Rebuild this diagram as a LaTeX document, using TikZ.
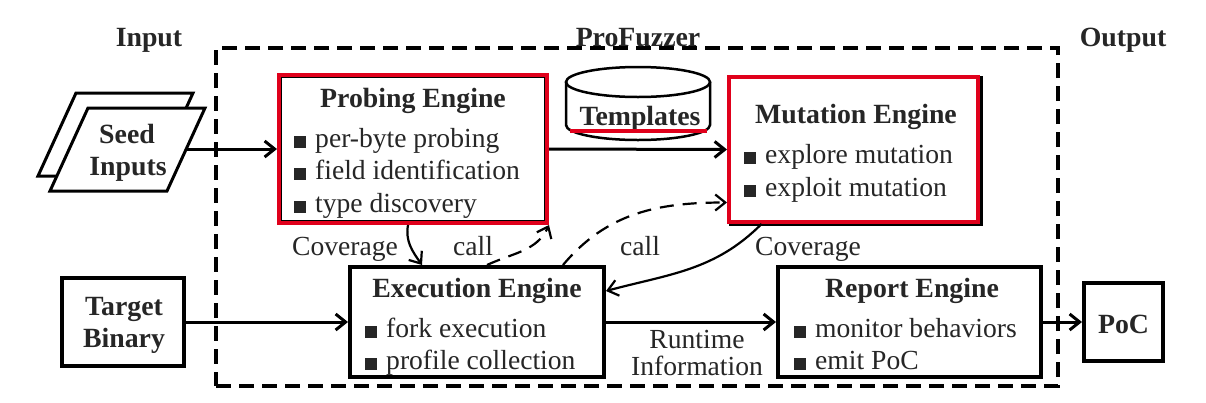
\documentclass[tikz,border=0pt]{standalone}
\usepackage{fontspec}
\setmainfont{Liberation Serif}
\usetikzlibrary{arrows.meta}
\definecolor{txtc}{HTML}{262626}
\definecolor{redc}{HTML}{E0001B}
\newcommand{\bul}{\rule[-1pt]{12pt}{12pt}\hspace{9pt}}
\begin{document}
\begin{tikzpicture}[x=1pt,y=-1pt,
  every node/.style={inner sep=0pt, text=txtc, font=\fontsize{27.6}{32}\selectfont},
  bold/.style={font=\fontsize{27.8}{32}\selectfont\bfseries},
  box/.style={draw=black, line width=4pt, fill=white, rectangle},
  rbox/.style={draw=redc, line width=4pt, fill=white, rectangle},
  inbox/.style={draw=black, line width=1.3pt, rectangle},
  conn/.style={line width=3pt, -{Straight Barb[length=10pt,width=16pt]}},
  thinc/.style={line width=2.2pt, -{Straight Barb[length=10pt,width=16pt]}},
  dsh/.style={thinc, dash pattern=on 14pt off 9pt},
  bl/.style={anchor=base west},
  bc/.style={anchor=base},
]
\fill[white] (0,0) rectangle (1206,402);
\useasboundingbox (0,0) rectangle (1206,402);

% frame
\node[draw=black, line width=3.5pt, dash pattern=on 15pt off 8pt, minimum width=842, minimum height=338, outer sep=0pt] (frame) at (637,217) {};

% titles
\node[bold, bc] (tin) at (149,46) {Input};
\node[bold, bc] (tpf) at (638,46) {ProFuzzer};
\node[bold, bc] (tout) at (1123,46) {Output};

% seed inputs
\draw[line width=3pt, fill=white] (76,93) -- (193,93) -- (155,176) -- (38,176) -- cycle;
\draw[line width=3pt, fill=white] (88,108) -- (205,108) -- (167,191) -- (50,191) -- cycle;
\node[bold, bc] (seed1) at (127,143) {Seed};
\node[bold, bc] (seed2) at (128,175) {Inputs};
\coordinate (seedout) at (187,149);

% target binary
\node[box, minimum width=122, minimum height=88] (target) at (123,322) {};
\node[bold, bc] (tg1) at (124,315) {Target};
\node[bold, bc] (tg2) at (124,347) {Binary};

% probing engine
\node[rbox, minimum width=268, minimum height=148] (probe) at (413,149) {};
\node[inbox, minimum width=263, minimum height=143] (probein) at (413,149) {};
\node[bold, bc] (probeT) at (413,107) {Probing Engine};
\node[bl] (p1) at (294,147) {\bul per-byte probing};
\node[bl] (p2) at (294,179) {\bul field identification};
\node[bl] (p3) at (294,212) {\bul type discovery};

% templates
\draw[line width=2.5pt, fill=white] (566,82) -- (566,125) arc[start angle=180, end angle=360, x radius=72pt, y radius=15pt] -- (710,82);
\draw[line width=2.5pt, fill=white] (638,82) ellipse [x radius=72pt, y radius=15pt];
\node[bold, bc] (tmpl) at (640,125) {Templates};
\draw[redc, line width=4.5pt] ([xshift=-9pt,yshift=-6pt]tmpl.base west) -- ([xshift=6pt,yshift=-6pt]tmpl.base east);

% mutation engine
\node[box, line width=3pt, minimum width=251, minimum height=147] (mutsh) at (856,151) {};
\node[rbox, minimum width=249, minimum height=145] (mut) at (853.5,149.5) {};
\node[bold, bc] (mutT) at (856,123) {Mutation Engine};
\node[bl] (m1) at (744,163) {\bul explore mutation};
\node[bl] (m2) at (744,196) {\bul exploit mutation};

% execution engine
\node[box, minimum width=254, minimum height=110] (exec) at (477,322) {};
\node[bold, bc] (execT) at (477,297) {Execution Engine};
\node[bl] (e1) at (365,337) {\bul fork execution};
\node[bl] (e2) at (365,369) {\bul profile collection};

% report engine
\node[box, minimum width=263, minimum height=110] (report) at (909.5,322) {};
\node[bold, bc] (repT) at (912,297) {Report Engine};
\node[bl] (r1) at (794,337) {\bul monitor behaviors};
\node[bl] (r2) at (794,369) {\bul emit PoC};

% PoC
\node[box, minimum width=79, minimum height=78] (poc) at (1123.5,322) {};
\node[bold, bc] (pocT) at (1123.5,333) {PoC};

% labels
\node[bc] (lcov1) at (345,255) {Coverage};
\node[bc] (lcall1) at (473,255) {call};
\node[bc] (lcall2) at (640,255) {call};
\node[bc] (lcov2) at (808,255) {Coverage};
\node[bc] (lrt1) at (697,348) {Runtime};
\node[bc] (lrt2) at (697,375) {Information};

% connectors
\draw[conn] (seedout) -- (probe.west);
\draw[conn] (probe.east) -- (mut.west);
\draw[conn] (target.east) -- (exec.west);
\draw[conn] (exec.east) -- (report.west);
\draw[conn] (report.east) -- (poc.west);
\draw[thinc] ([xshift=-5pt]probe.south) to[out=-100,in=125] ([xshift=-55pt]exec.north);
\draw[dsh] ([xshift=10pt]exec.north) to[out=25,in=-115] (probe.south east);
\draw[dsh] ([xshift=86pt]exec.north) to[out=50,in=180] ([yshift=-53pt]mut.west);
\draw[thinc] ([xshift=-92pt]mut.south) to[out=-135,in=15] ([yshift=31pt]exec.east);
\end{tikzpicture}
\end{document}
